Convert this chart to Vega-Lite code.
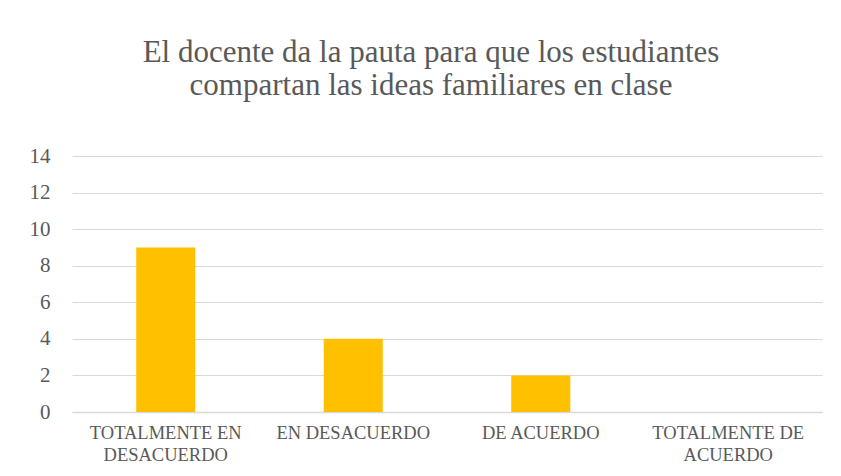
{
  "$schema": "https://vega.github.io/schema/vega-lite/v6.json",
  "width": 750,
  "height": 256,
  "autosize": {"type": "none"},
  "padding": {"left": 72, "top": 156, "right": 19, "bottom": 64},
  "background": "white",
  "title": {
    "text": ["El docente  da la pauta para que los estudiantes", "compartan las ideas familiares en clase"],
    "fontSize": 31,
    "fontWeight": "normal",
    "color": "#595959",
    "lineHeight": 33,
    "anchor": "middle",
    "dx": -16,
    "offset": 43
  },
  "data": {
    "values": [
      {"categoria": "TOTALMENTE EN DESACUERDO", "valor": 9},
      {"categoria": "EN DESACUERDO", "valor": 4},
      {"categoria": "DE ACUERDO", "valor": 2},
      {"categoria": "TOTALMENTE DE ACUERDO", "valor": 0}
    ]
  },
  "mark": {"type": "bar", "color": "#FFC000"},
  "encoding": {
    "x": {
      "field": "categoria",
      "type": "nominal",
      "sort": null,
      "scale": {"paddingInner": 0.685, "paddingOuter": 0.3425},
      "axis": {
        "title": null,
        "labelAngle": 0,
        "labelFontSize": 18.5,
        "labelColor": "#595959",
        "labelLineHeight": 22,
        "labelPadding": 11,
        "ticks": false,
        "domainColor": "#d9d9d9",
        "domainWidth": 1.5,
        "labelExpr": "datum.label == 'TOTALMENTE EN DESACUERDO' ? ['TOTALMENTE EN', 'DESACUERDO'] : datum.label == 'TOTALMENTE DE ACUERDO' ? ['TOTALMENTE DE', 'ACUERDO'] : datum.label"
      }
    },
    "y": {
      "field": "valor",
      "type": "quantitative",
      "scale": {"domain": [0, 14], "nice": false},
      "axis": {
        "title": null,
        "values": [0, 2, 4, 6, 8, 10, 12, 14],
        "domain": false,
        "ticks": false,
        "labelFontSize": 21,
        "labelColor": "#595959",
        "labelPadding": 22,
        "gridColor": "#d9d9d9",
        "gridWidth": 1.2
      }
    }
  },
  "config": {
    "view": {"stroke": null},
    "font": "Liberation Serif",
    "title": {"font": "Liberation Serif"},
    "axis": {"labelFont": "Liberation Serif"}
  }
}
